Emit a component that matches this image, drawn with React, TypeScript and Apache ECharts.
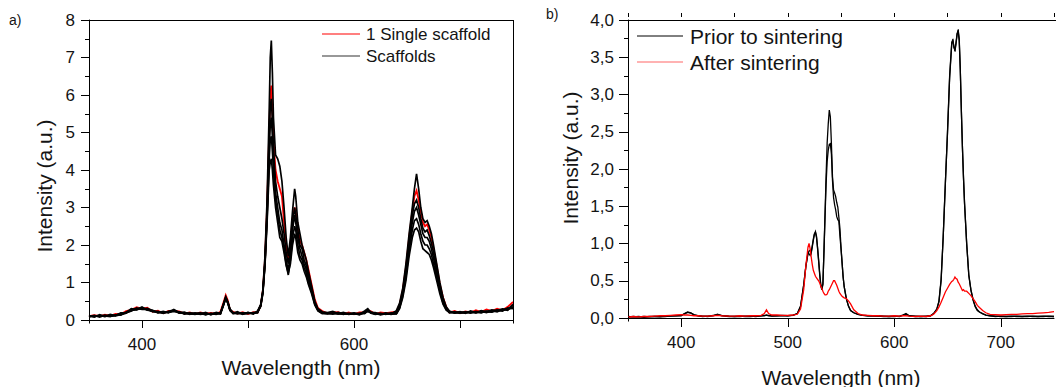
import React, { useEffect, useRef } from "react";
import * as echarts from "echarts";

const FONT = "'Liberation Sans', Arial, Helvetica, sans-serif";
const INK = "#141414";

// ---------- Panel a) ----------
const wavelengthA = [
  350, 355, 360, 365, 370, 375, 380, 385, 390, 395,
  400, 405, 410, 415, 420, 425, 430, 435, 440, 445,
  450, 455, 460, 465, 470, 474, 477, 479, 481, 483,
  486, 490, 495, 500, 505, 509, 512, 514, 516, 518,
  520, 521, 522, 523, 524, 526, 528, 530, 532, 534,
  536, 538, 540, 542, 544, 545, 547, 549, 551, 553,
  555, 557, 560, 563, 566, 570, 575, 580, 585, 590,
  595, 600, 605, 610, 613, 616, 620, 625, 630, 635,
  640, 643, 646, 649, 652, 655, 657, 659, 661, 663,
  665, 667, 669, 671, 673, 675, 678, 681, 684, 687,
  690, 695, 700, 705, 710, 715, 720, 725, 730, 735,
  740, 745, 750,
];

const singleScaffold = [
  0.1, 0.13, 0.1, 0.14, 0.11, 0.16, 0.15, 0.24, 0.27, 0.34,
  0.3, 0.33, 0.22, 0.25, 0.18, 0.24, 0.24, 0.23, 0.17, 0.2,
  0.16, 0.2, 0.17, 0.19, 0.16, 0.22, 0.48, 0.66, 0.52, 0.26,
  0.22, 0.17, 0.21, 0.16, 0.21, 0.2, 0.38, 0.78, 1.6, 3.0,
  5.0, 6.0, 6.25, 5.6, 4.8, 4.0, 3.7, 3.5, 3.3, 2.6,
  2.0, 1.6, 2.0, 2.7, 3.0, 2.9, 2.5, 2.1, 2.0, 1.8,
  1.6, 1.35, 0.95, 0.55, 0.32, 0.24, 0.18, 0.2, 0.21, 0.16,
  0.2, 0.15, 0.2, 0.2, 0.26, 0.23, 0.16, 0.2, 0.18, 0.2,
  0.22, 0.4, 0.8, 1.4, 2.2, 2.9, 3.3, 3.45, 3.2, 2.9,
  2.6, 2.5, 2.55, 2.4, 2.2, 1.9, 1.45, 0.95, 0.6, 0.35,
  0.2, 0.24, 0.18, 0.23, 0.2, 0.26, 0.21, 0.28, 0.24, 0.3,
  0.26, 0.35, 0.48,
];

const scaffold1 = [
  0.12, 0.08, 0.14, 0.1, 0.15, 0.12, 0.19, 0.2, 0.3, 0.28,
  0.35, 0.27, 0.26, 0.2, 0.23, 0.19, 0.28, 0.2, 0.21, 0.15,
  0.19, 0.16, 0.2, 0.14, 0.2, 0.18, 0.42, 0.6, 0.48, 0.3,
  0.18, 0.22, 0.15, 0.2, 0.16, 0.24, 0.4, 0.8, 1.7, 3.2,
  5.6, 7.0, 7.45, 6.6, 5.4, 4.4, 4.3, 4.1, 3.7, 3.0,
  2.2, 1.7, 2.2, 2.9, 3.5, 3.3, 2.6, 2.3, 2.0, 1.8,
  1.6, 1.3, 0.9, 0.5, 0.3, 0.22, 0.2, 0.23, 0.17, 0.2,
  0.16, 0.19, 0.15, 0.24, 0.3, 0.2, 0.2, 0.15, 0.19, 0.16,
  0.25, 0.45, 0.85, 1.5, 2.3, 3.0, 3.5, 3.9, 3.5, 3.0,
  2.7, 2.6, 2.65, 2.5, 2.3, 2.0, 1.5, 1.0, 0.6, 0.35,
  0.24, 0.19, 0.22, 0.18, 0.24, 0.2, 0.25, 0.22, 0.27, 0.25,
  0.3, 0.28, 0.42,
];

const scaffold2 = [
  0.09, 0.12, 0.08, 0.13, 0.1, 0.13, 0.17, 0.2, 0.25, 0.3,
  0.31, 0.28, 0.23, 0.21, 0.19, 0.22, 0.25, 0.19, 0.18, 0.17,
  0.15, 0.18, 0.14, 0.18, 0.17, 0.17, 0.44, 0.62, 0.47, 0.27,
  0.19, 0.2, 0.17, 0.17, 0.19, 0.21, 0.42, 0.76, 1.55, 2.9,
  4.9, 5.7, 5.9, 5.3, 4.6, 3.7, 3.3, 3.0, 2.7, 2.3,
  1.8, 1.5, 1.9, 2.6, 3.0, 2.8, 2.4, 2.0, 1.9, 1.6,
  1.45, 1.2, 0.85, 0.48, 0.28, 0.2, 0.19, 0.16, 0.2, 0.17,
  0.17, 0.18, 0.14, 0.2, 0.27, 0.19, 0.17, 0.18, 0.15, 0.19,
  0.2, 0.38, 0.75, 1.35, 2.1, 2.8, 3.1, 3.2, 3.0, 2.7,
  2.45, 2.35, 2.4, 2.25, 2.05, 1.8, 1.35, 0.9, 0.55, 0.32,
  0.22, 0.2, 0.19, 0.22, 0.2, 0.21, 0.19, 0.24, 0.22, 0.26,
  0.25, 0.3, 0.35,
];

const scaffold3 = [
  0.11, 0.09, 0.12, 0.09, 0.13, 0.11, 0.14, 0.18, 0.29, 0.3,
  0.29, 0.31, 0.25, 0.19, 0.21, 0.2, 0.23, 0.22, 0.16, 0.19,
  0.18, 0.15, 0.17, 0.15, 0.19, 0.16, 0.4, 0.58, 0.45, 0.25,
  0.17, 0.18, 0.19, 0.19, 0.17, 0.22, 0.36, 0.72, 1.5, 2.8,
  4.6, 5.2, 5.4, 4.9, 4.3, 3.4, 3.0, 2.6, 2.4, 2.0,
  1.6, 1.3, 1.8, 2.4, 2.8, 2.6, 2.2, 1.9, 1.7, 1.5,
  1.35, 1.1, 0.8, 0.45, 0.27, 0.19, 0.16, 0.19, 0.16, 0.18,
  0.15, 0.17, 0.18, 0.17, 0.25, 0.21, 0.18, 0.14, 0.17, 0.15,
  0.18, 0.35, 0.7, 1.25, 2.0, 2.6, 2.9, 3.0, 2.8, 2.55,
  2.3, 2.2, 2.2, 2.1, 1.9, 1.65, 1.25, 0.85, 0.5, 0.3,
  0.19, 0.22, 0.2, 0.19, 0.22, 0.19, 0.23, 0.2, 0.25, 0.22,
  0.28, 0.26, 0.4,
];

const scaffold4 = [
  0.08, 0.11, 0.1, 0.11, 0.09, 0.14, 0.13, 0.21, 0.26, 0.27,
  0.33, 0.26, 0.24, 0.23, 0.18, 0.23, 0.27, 0.18, 0.19, 0.16,
  0.17, 0.19, 0.15, 0.17, 0.15, 0.19, 0.43, 0.6, 0.46, 0.28,
  0.2, 0.16, 0.18, 0.2, 0.18, 0.19, 0.39, 0.74, 1.5, 2.7,
  4.3, 4.8, 4.9, 4.5, 4.0, 3.2, 2.8, 2.4, 2.2, 1.9,
  1.5, 1.2, 1.6, 2.2, 2.5, 2.4, 2.0, 1.7, 1.6, 1.4,
  1.25, 1.0, 0.75, 0.42, 0.25, 0.18, 0.17, 0.17, 0.18, 0.15,
  0.18, 0.16, 0.17, 0.19, 0.24, 0.18, 0.15, 0.17, 0.16, 0.17,
  0.17, 0.32, 0.65, 1.15, 1.85, 2.4, 2.65, 2.7, 2.55, 2.3,
  2.1, 2.0, 2.0, 1.9, 1.75, 1.5, 1.15, 0.78, 0.45, 0.28,
  0.21, 0.18, 0.21, 0.2, 0.18, 0.23, 0.2, 0.22, 0.21, 0.27,
  0.24, 0.32, 0.3,
];

const scaffold5 = [
  0.1, 0.1, 0.11, 0.12, 0.1, 0.12, 0.16, 0.19, 0.24, 0.32,
  0.28, 0.29, 0.22, 0.22, 0.2, 0.21, 0.24, 0.21, 0.17, 0.18,
  0.16, 0.17, 0.18, 0.16, 0.18, 0.17, 0.41, 0.57, 0.44, 0.26,
  0.18, 0.19, 0.16, 0.18, 0.2, 0.2, 0.37, 0.7, 1.45, 2.6,
  4.0, 4.2, 4.3, 4.0, 3.6, 3.0, 2.6, 2.2, 2.1, 1.8,
  1.45, 1.25, 1.5, 2.0, 2.3, 2.2, 1.8, 1.6, 1.5, 1.3,
  1.15, 0.95, 0.7, 0.4, 0.24, 0.17, 0.18, 0.18, 0.16, 0.17,
  0.16, 0.17, 0.16, 0.18, 0.23, 0.2, 0.16, 0.16, 0.17, 0.16,
  0.16, 0.3, 0.6, 1.05, 1.7, 2.2, 2.4, 2.45, 2.35, 2.1,
  1.9, 1.85, 1.8, 1.75, 1.6, 1.4, 1.05, 0.7, 0.42, 0.26,
  0.2, 0.21, 0.18, 0.21, 0.21, 0.2, 0.22, 0.23, 0.22, 0.24,
  0.27, 0.29, 0.33,
];

// ---------- Panel b) ----------
const wavelengthB = [
  350, 355, 360, 365, 370, 375, 380, 385, 390, 395,
  400, 403, 406, 409, 412, 416, 420, 425, 430, 434,
  438, 445, 450, 455, 460, 465, 470, 475, 478, 480,
  482, 485, 490, 495, 500, 505, 509, 512, 515, 517,
  519, 520, 521, 522, 523, 524, 525, 526, 527, 528,
  529, 530, 531, 532, 533, 534, 535, 536, 537, 538,
  539, 540, 541, 542, 543, 544, 545, 546, 547, 548,
  549, 550, 551, 552, 553, 555, 557, 559, 562, 566,
  570, 575, 580, 585, 590, 595, 600, 605, 608, 611,
  614, 620, 625, 630, 634, 637, 640, 642, 644, 646,
  648, 650, 652, 654, 655, 656, 657, 658, 659, 660,
  661, 662, 663, 664, 665, 666, 668, 670, 672, 674,
  676, 678, 680, 683, 686, 690, 695, 700, 705, 710,
  715, 720, 725, 730, 735, 740, 745, 750,
];

const priorA = [
  0.02, 0.015, 0.02, 0.01, 0.02, 0.02, 0.015, 0.02, 0.03, 0.03,
  0.03, 0.06, 0.08, 0.07, 0.04, 0.03, 0.02, 0.025, 0.03, 0.05,
  0.03, 0.02, 0.02, 0.025, 0.02, 0.02, 0.025, 0.03, 0.03, 0.04,
  0.03, 0.03, 0.03, 0.03, 0.03, 0.04, 0.06, 0.15, 0.45, 0.69,
  0.86, 0.9, 0.91, 0.87, 0.95, 1.04, 1.12, 1.16, 1.1, 0.95,
  0.78, 0.6, 0.45, 0.38, 0.45, 0.9, 1.4, 1.9, 2.35, 2.6,
  2.79, 2.7, 2.34, 1.9, 1.72, 1.68, 1.63, 1.55, 1.49, 1.35,
  1.2, 0.95, 0.75, 0.55, 0.42, 0.26, 0.16, 0.1, 0.07, 0.05,
  0.04, 0.03, 0.03, 0.025, 0.02, 0.02, 0.02, 0.025, 0.04, 0.06,
  0.03, 0.02, 0.02, 0.025, 0.03, 0.06, 0.12, 0.22, 0.5, 1.1,
  1.8, 2.5, 3.25, 3.7, 3.73, 3.65, 3.58, 3.68, 3.8, 3.87,
  3.75, 3.35, 2.8, 2.3, 1.9, 1.55, 1.0, 0.58, 0.38, 0.25,
  0.16, 0.11, 0.08, 0.06, 0.04, 0.03, 0.025, 0.02, 0.02, 0.025,
  0.02, 0.02, 0.025, 0.02, 0.02, 0.025, 0.02, 0.02,
];

const priorB = [
  0.015, 0.02, 0.015, 0.02, 0.015, 0.02, 0.02, 0.025, 0.025, 0.03,
  0.035, 0.055, 0.075, 0.065, 0.045, 0.03, 0.025, 0.02, 0.035, 0.045,
  0.035, 0.025, 0.02, 0.02, 0.025, 0.025, 0.02, 0.03, 0.035, 0.035,
  0.035, 0.025, 0.03, 0.035, 0.03, 0.035, 0.06, 0.16, 0.44, 0.7,
  0.88, 0.86, 0.84, 0.88, 0.97, 1.06, 1.13, 1.15, 1.08, 0.93,
  0.76, 0.58, 0.44, 0.38, 0.46, 0.88, 1.35, 1.8, 2.1, 2.25,
  2.33, 2.34, 2.2, 1.85, 1.62, 1.52, 1.45, 1.36, 1.32, 1.3,
  1.1, 0.93, 0.74, 0.55, 0.42, 0.26, 0.16, 0.1, 0.07, 0.05,
  0.035, 0.03, 0.025, 0.03, 0.025, 0.02, 0.025, 0.02, 0.035, 0.05,
  0.03, 0.025, 0.02, 0.02, 0.03, 0.06, 0.12, 0.23, 0.52, 1.1,
  1.82, 2.48, 3.22, 3.68, 3.74, 3.63, 3.6, 3.7, 3.82, 3.85,
  3.72, 3.33, 2.78, 2.3, 1.88, 1.53, 1.0, 0.57, 0.37, 0.24,
  0.15, 0.1, 0.08, 0.055, 0.04, 0.03, 0.02, 0.025, 0.02, 0.02,
  0.025, 0.02, 0.02, 0.025, 0.02, 0.02, 0.025, 0.02,
];

const afterSintering = [
  0.01, 0.02, 0.015, 0.02, 0.02, 0.025, 0.03, 0.03, 0.035, 0.04,
  0.045, 0.04, 0.04, 0.035, 0.03, 0.03, 0.025, 0.025, 0.03, 0.035,
  0.03, 0.025, 0.025, 0.03, 0.025, 0.03, 0.03, 0.035, 0.06, 0.11,
  0.06, 0.04, 0.04, 0.035, 0.035, 0.04, 0.05, 0.12, 0.38, 0.7,
  0.95, 1.0, 0.93, 0.82, 0.72, 0.64, 0.6, 0.56, 0.54, 0.52,
  0.5, 0.47, 0.43, 0.4, 0.36, 0.33, 0.31, 0.31, 0.32, 0.36,
  0.38, 0.41, 0.44, 0.47, 0.5, 0.5, 0.47, 0.44, 0.4, 0.36,
  0.33, 0.31, 0.29, 0.28, 0.27, 0.26, 0.23, 0.19, 0.11, 0.06,
  0.04, 0.035, 0.03, 0.03, 0.025, 0.025, 0.03, 0.025, 0.03, 0.03,
  0.025, 0.02, 0.025, 0.02, 0.03, 0.05, 0.1, 0.15, 0.21, 0.28,
  0.35, 0.4, 0.45, 0.49, 0.5, 0.52, 0.55, 0.53, 0.52, 0.48,
  0.46, 0.43, 0.4, 0.37, 0.38, 0.36, 0.36, 0.33, 0.3, 0.26,
  0.22, 0.17, 0.14, 0.1, 0.07, 0.05, 0.045, 0.04, 0.045, 0.05,
  0.05, 0.055, 0.06, 0.06, 0.065, 0.07, 0.075, 0.085,
];

const ticksA = [400, 500, 600, 700];
const labelsA = [400, 600];
const ticksB = [400, 500, 600, 700];

function pairs(x: number[], y: number[]) {
  return x.map((v, i) => [v, y[i]]);
}

function txt(text: string, x: number, y: number, size: number, extra: any = {}) {
  return {
    type: "text",
    x,
    y,
    z: 100,
    ...extra,
    style: {
      text,
      fontSize: size,
      fontFamily: FONT,
      fill: INK,
      align: extra.align || "left",
      verticalAlign: "middle",
      textAlign: extra.align || "left",
      textVerticalAlign: "middle",
    },
  };
}

function seg(x1: number, y1: number, x2: number, y2: number, color = "#000", w = 1) {
  return {
    type: "line",
    z: 100,
    shape: { x1, y1, x2, y2 },
    style: { stroke: color, lineWidth: w },
  };
}

export default function App() {
  const ref = useRef<HTMLDivElement>(null);

  useEffect(() => {
    const chart = echarts.init(ref.current!, null, { renderer: "svg" });
    const labelStyle = { color: INK, fontSize: 17, fontFamily: FONT };
    const lineAx = { show: true, lineStyle: { color: "#000", width: 1 } };

    const line = (name: string, x: number[], y: number[], color: string, axis: number, width = 1) => ({
      name,
      type: "line",
      xAxisIndex: axis === 0 ? 0 : 1,
      yAxisIndex: axis,
      data: pairs(x, y),
      showSymbol: false,
      symbol: "none",
      lineStyle: { color, width, join: "miter" },
      itemStyle: { color },
      emphasis: { disabled: true },
    });

    const option: any = {
      animation: false,
      grid: [
        { left: 89, top: 20, width: 424, height: 300 },
        { left: 628, top: 20, width: 426, height: 298 },
      ],
      xAxis: [
        {
          gridIndex: 0,
          type: "value",
          min: 350,
          max: 750,
          offset: 3,
          axisLine: lineAx,
          axisTick: { show: true, length: 8, customValues: ticksA, lineStyle: { color: "#000" } },
          axisLabel: { customValues: labelsA, margin: 13, ...labelStyle },
          splitLine: { show: false },
        },
        {
          gridIndex: 1,
          type: "value",
          min: 350,
          max: 750,
          offset: 3,
          axisLine: lineAx,
          axisTick: { show: true, length: 9, customValues: ticksB, lineStyle: { color: "#000" } },
          axisLabel: { customValues: ticksB, margin: 13, ...labelStyle },
          splitLine: { show: false },
        },
        {
          gridIndex: 1,
          type: "value",
          min: 350,
          max: 750,
          interval: 50,
          offset: 3,
          axisLine: { show: false },
          axisTick: { show: true, length: 4, lineStyle: { color: "#000" } },
          axisLabel: { show: false },
          splitLine: { show: false },
        },
      ],
      yAxis: [
        {
          gridIndex: 0,
          type: "value",
          min: 0,
          max: 8,
          interval: 1,
          axisLine: lineAx,
          axisTick: { show: true, length: 8, lineStyle: { color: "#000" } },
          minorTick: { show: true, splitNumber: 2, length: 4, lineStyle: { color: "#000" } },
          axisLabel: { margin: 14, ...labelStyle },
          splitLine: { show: false },
          minorSplitLine: { show: false },
        },
        {
          gridIndex: 1,
          type: "value",
          min: 0,
          max: 4,
          interval: 0.5,
          axisLine: lineAx,
          axisTick: { show: true, length: 9, lineStyle: { color: "#000" } },
          minorTick: { show: true, splitNumber: 2, length: 4, lineStyle: { color: "#000" } },
          axisLabel: {
            margin: 14,
            ...labelStyle,
            formatter: (v: number) => v.toFixed(1).replace(".", ","),
          },
          splitLine: { show: false },
          minorSplitLine: { show: false },
        },
      ],
      series: [
        line("1 Single scaffold", wavelengthA, singleScaffold, "#ff0000", 0, 1.8),
        line("Scaffolds", wavelengthA, scaffold1, "#000000", 0, 1.7),
        line("Scaffolds 2", wavelengthA, scaffold2, "#000000", 0, 1.7),
        line("Scaffolds 3", wavelengthA, scaffold3, "#000000", 0, 1.7),
        line("Scaffolds 4", wavelengthA, scaffold4, "#000000", 0, 1.7),
        line("Scaffolds 5", wavelengthA, scaffold5, "#000000", 0, 1.7),
        line("Prior to sintering", wavelengthB, priorA, "#000000", 1, 1.3),
        line("Prior to sintering 2", wavelengthB, priorB, "#000000", 1, 1.3),
        line("After sintering", wavelengthB, afterSintering, "#ff0000", 1, 1.3),
      ],
      graphic: [
        // frames
        seg(89, 20.5, 513.5, 20.5),
        seg(513.5, 20, 513.5, 323.5),
        seg(89.5, 319, 89.5, 323.5),
        seg(628, 20.5, 1056, 20.5),
        seg(628.5, 317, 628.5, 321.5),
        // panel labels
        txt("a)", 9, 20, 14),
        txt("b)", 546, 14, 14),
        // axis titles
        txt("Intensity (a.u.)", 44, 186, 21, { rotation: Math.PI / 2, align: "center" }),
        txt("Wavelength (nm)", 301, 367, 21, { align: "center" }),
        txt("Intensity (a.u.)", 570, 158, 21, { rotation: Math.PI / 2, align: "center" }),
        txt("Wavelength (nm)", 841, 377, 21, { align: "center" }),
        // legend a
        seg(322, 34, 360, 34, "#ff0000", 1.2),
        txt("1 Single scaffold", 366, 34, 17),
        seg(322, 56, 360, 56, "#333333", 1.2),
        txt("Scaffolds", 366, 56, 17),
        // legend b
        seg(637, 36, 683, 36, "#000000", 1),
        txt("Prior to sintering", 690, 36, 21),
        seg(637, 62, 683, 62, "#ff6666", 1.2),
        txt("After sintering", 690, 62, 21),
      ],
    };

    chart.setOption(option);
    return () => chart.dispose();
  }, []);

  return (
    <div
      ref={ref}
      style={{ position: "fixed", left: 0, top: 0, width: 1056, height: 387, background: "#fff" }}
    />
  );
}
